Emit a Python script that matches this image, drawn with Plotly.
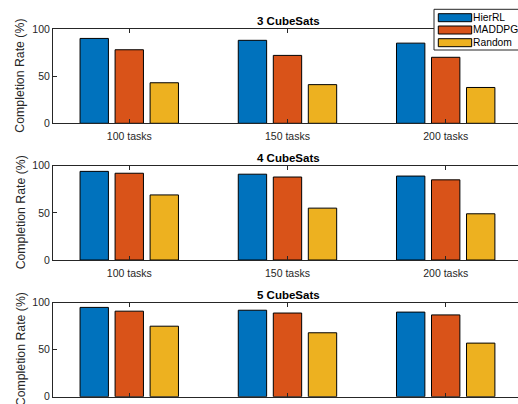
import plotly.graph_objects as go

categories = ["100 tasks", "150 tasks", "200 tasks"]
methods = ["HierRL", "MADDPG", "Random"]
colors = ["#0072BD", "#D95319", "#EDB120"]
panel_titles = ["3 CubeSats", "4 CubeSats", "5 CubeSats"]

hierrl_3 = [90, 88, 85]
maddpg_3 = [78, 72, 70]
random_3 = [43, 41, 38]

hierrl_4 = [94, 91, 89]
maddpg_4 = [92, 88, 85]
random_4 = [69, 55, 49]

hierrl_5 = [95, 92, 90]
maddpg_5 = [91, 89, 87]
random_5 = [75, 68, 57]

panels = [
    [hierrl_3, maddpg_3, random_3],
    [hierrl_4, maddpg_4, random_4],
    [hierrl_5, maddpg_5, random_5],
]

W, H = 518, 404
ML = 53
PW = W - ML

def px_x(p):
    return (p - ML) / PW

def px_y(p):
    return 1 - p / H

# panel pixel extents (top, bottom)
extents = [(29, 123.3), (165.7, 260), (302.7, 396.7)]
title_y = [20.5, 157.5, 295]

fig = go.Figure()
axis_font = dict(family="Liberation Sans, Arial, sans-serif", size=10.5, color="#262626")

for i, series in enumerate(panels):
    xa = "x" if i == 0 else f"x{i+1}"
    ya = "y" if i == 0 else f"y{i+1}"
    for j, vals in enumerate(series):
        fig.add_trace(go.Bar(
            x=categories, y=vals, name=methods[j],
            marker=dict(color=colors[j], line=dict(color="black", width=1)),
            xaxis=xa, yaxis=ya, showlegend=False, hoverinfo="skip",
        ))
    top, bot = extents[i]
    xkey = "xaxis" if i == 0 else f"xaxis{i+1}"
    ykey = "yaxis" if i == 0 else f"yaxis{i+1}"
    fig.layout[xkey] = dict(
        domain=[0, 1], anchor=ya, type="category",
        range=[-0.482, 2.457],
        showline=True, linecolor="#262626", linewidth=1, mirror="ticks",
        ticks="inside", ticklen=4, tickcolor="#262626", ticklabelstandoff=3,
        tickfont=axis_font, showgrid=False, zeroline=False, automargin=False,
    )
    fig.layout[ykey] = dict(
        domain=[px_y(bot), px_y(top)], anchor=xa,
        range=[0, 100], tickvals=[0, 50, 100],
        showline=True, linecolor="#262626", linewidth=1,
        ticks="inside", ticklen=4, tickcolor="#262626",
        tickfont=axis_font, showgrid=False, zeroline=False, automargin=False,
    )
    fig.add_annotation(
        text="<b>" + panel_titles[i] + "</b>", xref="paper", yref="paper",
        x=px_x(288), y=px_y(title_y[i]), showarrow=False,
        font=dict(family="Liberation Sans, Arial, sans-serif", size=11.5, color="black"),
        xanchor="center", yanchor="middle",
    )
    fig.add_annotation(
        text="Completion Rate (%)", xref="paper", yref="paper",
        x=px_x(20.5), y=px_y((top + bot) / 2), showarrow=False, textangle=-90,
        font=dict(family="Liberation Sans, Arial, sans-serif", size=12.3, color="#262626"),
        xanchor="center", yanchor="middle",
    )

# custom legend
fig.add_shape(type="rect", xref="paper", yref="paper",
              x0=px_x(434), x1=px_x(530), y0=px_y(50), y1=px_y(9.3),
              fillcolor="white", line=dict(color="#262626", width=1), layer="above")
sw_tops = [13.7, 26.0, 38.7]
for j, m in enumerate(methods):
    fig.add_shape(type="rect", xref="paper", yref="paper",
                  x0=px_x(438.3), x1=px_x(471.7),
                  y0=px_y(sw_tops[j] + 8), y1=px_y(sw_tops[j]),
                  fillcolor=colors[j], line=dict(color="black", width=1), layer="above")
    fig.add_annotation(text=m, xref="paper", yref="paper",
                       x=px_x(471.5), y=px_y(sw_tops[j] + 4), showarrow=False,
                       xanchor="left", yanchor="middle", borderpad=0,
                       font=dict(family="Liberation Sans, Arial, sans-serif", size=10.3, color="black"))

fig.update_layout(
    width=W, height=H, barmode="group", bargap=0.336, bargroupgap=0.19,
    margin=dict(l=ML, r=0, t=0, b=0),
    paper_bgcolor="white", plot_bgcolor="white", showlegend=False,
)

fig.write_html("out.html", config={"displayModeBar": False, "staticPlot": True},
               post_script="document.body.style.margin='0';document.body.style.overflow='hidden';")
